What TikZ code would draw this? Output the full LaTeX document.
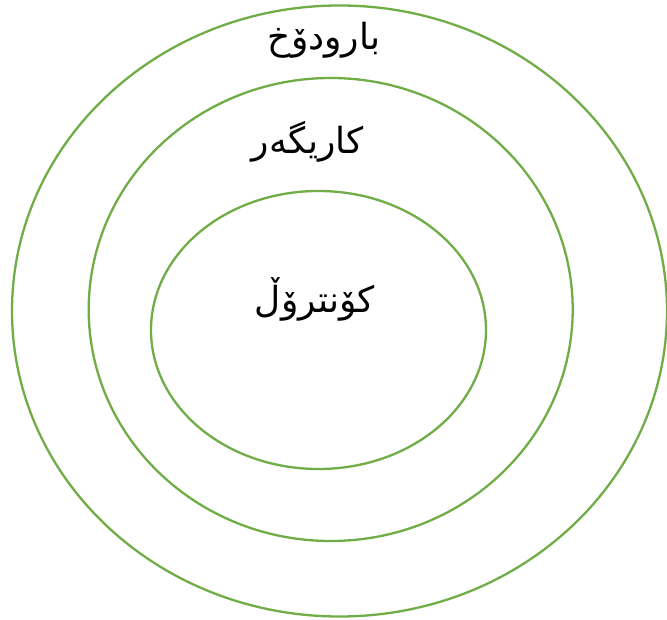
\documentclass[tikz,border=0pt]{standalone}
\usepackage{fontspec}
\usetikzlibrary{shapes.geometric}
\TeXXeTstate=1
\newfontfamily\arabicfont[Script=Arabic]{DejaVu Sans}
\definecolor{ringgreen}{HTML}{70AD47}
\begin{document}
\begin{tikzpicture}[x=1pt,y=-1pt,
  ring/.style={draw=ringgreen, line width=2.3pt, ellipse, inner sep=0pt, outer sep=0pt},
  lbl/.style={font=\arabicfont\fontsize{36}{40}\selectfont, text=black, inner sep=0pt}]
\useasboundingbox (0,0) rectangle (667,620);
\fill[white] (0,0) rectangle (667,620);
\node[ring, minimum width=655pt, minimum height=611pt] (outer) at (339.5,311) {};
\node[ring, minimum width=484pt, minimum height=463pt] (middle) at (330.7,309.5) {};
\node[ring, minimum width=335pt, minimum height=278pt] (inner) at (318.5,330) {};
\node[lbl] (t1) at (324,40) {\beginR بارودۆخ\endR};
\node[lbl] (t2) at (308,142) {\beginR کاریگەر\endR};
\node[lbl] (t3) at (315,299) {\beginR کۆنترۆڵ\endR};
\end{tikzpicture}
\end{document}
